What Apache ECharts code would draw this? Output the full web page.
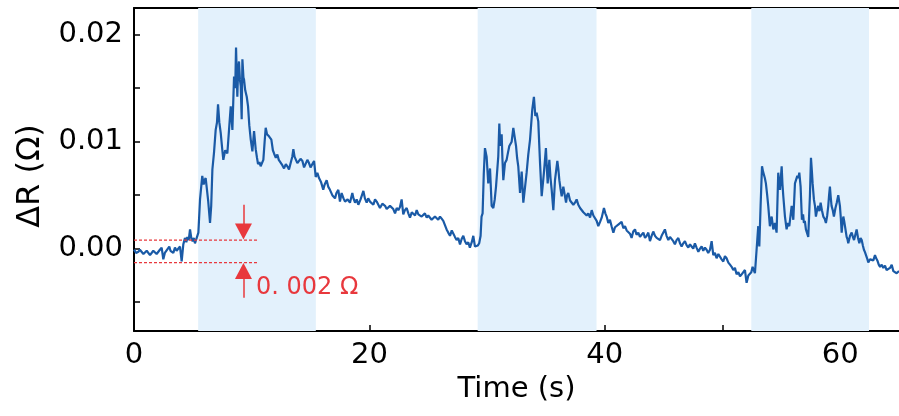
<!DOCTYPE html>
<html>
<head>
<meta charset="utf-8">
<script src="https://cdn.jsdelivr.net/npm/echarts@6/dist/echarts.min.js"></script>
<style>
  html, body { margin: 0; padding: 0; background: #fff; }
  #chart { width: 899px; height: 416px; }
</style>
</head>
<body>
<div id="chart"></div>
<script>
// ΔR 随时间变化，三段刺激区（浅蓝底）
const trace = [
  [0, -0.0001], [0.18, -0.0004], [0.37, -0.0003], [0.5, -0.0001], [0.65, -0.0001], [0.8, -0.0005],
  [0.93, -0.0006], [1.08, -0.0002], [1.22, -0.0003], [1.36, -0.0006], [1.5, -0.0007], [1.64, -0.0002],
  [1.78, -0.0001], [1.92, -0.0005], [2.07, -0.0004], [2.2, -0.0001], [2.35, 0.0001], [2.49, -0.0010],
  [2.62, -0.0004], [2.78, -0.0003], [3.0, 0.0002], [3.1, -0.0002], [3.2, -0.0001], [3.34, -0.0004],
  [3.48, 0.0001], [3.62, -0.0002], [3.77, -0.0003], [3.91, 0.0002], [4.05, -0.0012], [4.19, 0.0004],
  [4.33, 0.0010], [4.45, 0.0006], [4.53, 0.0011], [4.65, 0.0008], [4.76, 0.0018], [4.88, 0.0009],
  [4.98, 0.0007], [5.08, 0.0010], [5.18, 0.0005], [5.32, 0.0004], [5.47, 0.0015], [5.61, 0.0046],
  [5.8, 0.0068], [5.92, 0.0060], [6.0, 0.0064], [6.09, 0.0066], [6.2, 0.0055], [6.3, 0.0045],
  [6.46, 0.0024], [6.56, 0.0040], [6.66, 0.0074], [6.8, 0.0090], [6.94, 0.0111], [7.05, 0.0118],
  [7.14, 0.0135], [7.25, 0.0118], [7.37, 0.0108], [7.48, 0.0095], [7.59, 0.0083], [7.75, 0.0092],
  [7.93, 0.0089], [8.1, 0.0115], [8.22, 0.0133], [8.36, 0.0111], [8.5, 0.0161], [8.6, 0.0150],
  [8.67, 0.0188], [8.78, 0.0142], [8.85, 0.0168], [8.92, 0.0175], [9.0, 0.0158], [9.07, 0.0152],
  [9.15, 0.0121], [9.21, 0.0177], [9.3, 0.0160], [9.35, 0.0158], [9.45, 0.0148], [9.58, 0.0142],
  [9.69, 0.0133], [9.8, 0.0115], [9.92, 0.0102], [10.06, 0.0091], [10.2, 0.0110], [10.34, 0.0093],
  [10.45, 0.0085], [10.54, 0.0079], [10.66, 0.0081], [10.76, 0.0077], [10.99, 0.0083], [11.1, 0.0100],
  [11.19, 0.0113], [11.3, 0.0107], [11.47, 0.0105], [11.67, 0.0102], [11.8, 0.0092], [11.9, 0.0089],
  [12.05, 0.0085], [12.18, 0.0088], [12.3, 0.0083], [12.46, 0.0082], [12.6, 0.0078], [12.75, 0.0075],
  [12.9, 0.0079], [13.03, 0.0077], [13.17, 0.0074], [13.31, 0.0080], [13.45, 0.0086], [13.54, 0.0093],
  [13.64, 0.0086], [13.74, 0.0085], [13.88, 0.0080], [14.02, 0.0079], [14.15, 0.0084], [14.31, 0.0082],
  [14.45, 0.0076], [14.59, 0.0077], [14.73, 0.0083], [14.87, 0.0080], [15.0, 0.0076], [15.16, 0.0075],
  [15.3, 0.0082], [15.44, 0.0067], [15.58, 0.0071], [15.72, 0.0066], [15.9, 0.0062], [16.08, 0.0055],
  [16.2, 0.0060], [16.37, 0.0064], [16.5, 0.0058], [16.65, 0.0055], [16.85, 0.0050], [17.08, 0.0047],
  [17.2, 0.0052], [17.36, 0.0055], [17.5, 0.0044], [17.64, 0.0052], [17.8, 0.0047], [17.93, 0.0044],
  [18.15, 0.0046], [18.35, 0.0043], [18.55, 0.0052], [18.65, 0.0047], [18.78, 0.0043], [18.92, 0.0046],
  [19.06, 0.0041], [19.25, 0.0046], [19.49, 0.0054], [19.62, 0.0047], [19.77, 0.0043], [19.9, 0.0047],
  [20.05, 0.0044], [20.2, 0.0045], [20.34, 0.0041], [20.48, 0.0046], [20.62, 0.0044], [20.76, 0.0041],
  [20.9, 0.0038], [21.1, 0.0042], [21.33, 0.0040], [21.47, 0.0037], [21.61, 0.0036], [21.75, 0.0040],
  [21.89, 0.0041], [22.03, 0.0037], [22.18, 0.0033], [22.32, 0.0038], [22.46, 0.0036], [22.6, 0.0039],
  [22.74, 0.0046], [22.88, 0.0032], [23.02, 0.0036], [23.17, 0.0038], [23.31, 0.0033], [23.45, 0.0029],
  [23.6, 0.0034], [23.73, 0.0035], [23.88, 0.0031], [24.02, 0.0036], [24.16, 0.0032], [24.3, 0.0033],
  [24.44, 0.0030], [24.58, 0.0030], [24.72, 0.0033], [24.87, 0.0029], [25.0, 0.0031], [25.15, 0.0030],
  [25.29, 0.0027], [25.43, 0.0027], [25.57, 0.0030], [25.71, 0.0029], [25.85, 0.0027], [26.0, 0.0030],
  [26.14, 0.0028], [26.28, 0.0026], [26.42, 0.0022], [26.56, 0.0018], [26.7, 0.0015], [26.85, 0.0012],
  [27.0, 0.0017], [27.13, 0.0016], [27.27, 0.0011], [27.41, 0.0008], [27.55, 0.0010], [27.7, 0.0004],
  [27.84, 0.0009], [27.98, 0.0012], [28.12, 0.0007], [28.26, 0.0004], [28.4, 0.0006], [28.54, 0.0001],
  [28.7, 0.0006], [28.83, 0.0012], [28.97, 0.0002], [29.11, 0.0001], [29.22, 0.0003], [29.33, 0.0005],
  [29.45, 0.0012], [29.53, 0.0030], [29.62, 0.0033], [29.72, 0.0070], [29.82, 0.0094], [29.96, 0.0086],
  [30.1, 0.0061], [30.25, 0.0075], [30.39, 0.0040], [30.53, 0.0038], [30.65, 0.0046], [30.76, 0.0058],
  [30.95, 0.0086], [31.04, 0.0117], [31.1, 0.0100], [31.15, 0.0096], [31.24, 0.0107], [31.3, 0.0085],
  [31.38, 0.0064], [31.52, 0.0080], [31.66, 0.0083], [31.78, 0.0090], [31.89, 0.0096], [32.09, 0.0100],
  [32.23, 0.0113], [32.35, 0.0104], [32.46, 0.0096], [32.55, 0.0085], [32.65, 0.0077], [32.8, 0.0052],
  [32.94, 0.0072], [33.08, 0.0043], [33.2, 0.0055], [33.36, 0.0071], [33.5, 0.0088], [33.65, 0.0102],
  [33.84, 0.0130], [33.98, 0.0142], [34.1, 0.0124], [34.21, 0.0127], [34.35, 0.0119], [34.5, 0.0080],
  [34.64, 0.0049], [34.83, 0.0071], [35.0, 0.0094], [35.08, 0.0075], [35.15, 0.0061], [35.29, 0.0083],
  [35.39, 0.0066], [35.49, 0.0055], [35.63, 0.0036], [35.77, 0.0064], [35.97, 0.0082], [36.06, 0.0074],
  [36.14, 0.0064], [36.24, 0.0056], [36.34, 0.0049], [36.48, 0.0058], [36.6, 0.0050], [36.71, 0.0043],
  [36.8, 0.0050], [36.9, 0.0052], [37.05, 0.0045], [37.19, 0.0046], [37.33, 0.0041], [37.47, 0.0043],
  [37.61, 0.0046], [37.75, 0.0041], [37.9, 0.0038], [38.04, 0.0038], [38.18, 0.0034], [38.32, 0.0035],
  [38.46, 0.0031], [38.6, 0.0033], [38.75, 0.0029], [38.89, 0.0036], [39.03, 0.0031], [39.17, 0.0030],
  [39.31, 0.0026], [39.45, 0.0021], [39.6, 0.0025], [39.74, 0.0029], [39.93, 0.0038], [40.05, 0.0033],
  [40.16, 0.0030], [40.3, 0.0024], [40.44, 0.0027], [40.58, 0.0021], [40.73, 0.0015], [40.87, 0.0020],
  [41.01, 0.0019], [41.2, 0.0023], [41.43, 0.0025], [41.58, 0.0019], [41.72, 0.0021], [41.86, 0.0017],
  [42.0, 0.0018], [42.14, 0.0014], [42.28, 0.0010], [42.42, 0.0016], [42.57, 0.0018], [42.7, 0.0013],
  [42.85, 0.0015], [42.99, 0.0011], [43.13, 0.0013], [43.28, 0.0015], [43.42, 0.0010], [43.56, 0.0012],
  [43.7, 0.0015], [43.84, 0.0007], [43.98, 0.0012], [44.12, 0.0016], [44.27, 0.0012], [44.41, 0.0010],
  [44.55, 0.0011], [44.69, 0.0008], [44.83, 0.0012], [44.97, 0.0013], [45.11, 0.0018], [45.25, 0.0012],
  [45.4, 0.0008], [45.54, 0.0011], [45.68, 0.0010], [45.82, 0.0007], [45.96, 0.0004], [46.1, 0.0008],
  [46.25, 0.0010], [46.39, 0.0005], [46.53, 0.0002], [46.67, 0.0005], [46.81, 0.0007], [46.96, 0.0003],
  [47.1, 0.0001], [47.24, 0.0004], [47.38, 0.0002], [47.52, 0.0000], [47.66, 0.0005], [47.8, 0.0001],
  [47.95, -0.0003], [48.09, 0.0000], [48.23, 0.0002], [48.37, -0.0002], [48.51, 0.0001], [48.65, -0.0001],
  [48.79, -0.0004], [48.94, -0.0001], [49.08, 0.0007], [49.22, -0.0006], [49.36, -0.0004], [49.5, -0.0009],
  [49.65, -0.0005], [49.79, -0.0006], [49.93, -0.0010], [50.07, -0.0012], [50.21, -0.0007], [50.35, -0.0009],
  [50.5, -0.0013], [50.64, -0.0015], [50.78, -0.0017], [50.92, -0.0020], [51.06, -0.0018], [51.2, -0.0024],
  [51.35, -0.0022], [51.49, -0.0026], [51.63, -0.0024], [51.77, -0.0023], [51.91, -0.0020], [52.05, -0.0032],
  [52.2, -0.0025], [52.34, -0.0026], [52.45, -0.0022], [52.56, -0.0017], [52.66, -0.0020], [52.76, -0.0023],
  [52.9, -0.0001], [53.04, 0.0021], [53.13, 0.0002], [53.24, 0.0040], [53.36, 0.0077], [53.45, 0.0072],
  [53.52, 0.0071], [53.6, 0.0066], [53.69, 0.0061], [53.8, 0.0050], [53.89, 0.0040], [54.03, 0.0021],
  [54.18, 0.0030], [54.32, 0.0018], [54.46, 0.0024], [54.6, 0.0015], [54.74, 0.0071], [54.8, 0.0064],
  [54.89, 0.0055], [55.03, 0.0077], [55.1, 0.0060], [55.17, 0.0049], [55.31, 0.0030], [55.45, 0.0018],
  [55.56, 0.0024], [55.68, 0.0021], [55.88, 0.0040], [56.02, 0.0027], [56.16, 0.0061], [56.26, 0.0060],
  [56.36, 0.0068], [56.45, 0.0066], [56.53, 0.0071], [56.64, 0.0058], [56.75, 0.0027], [56.85, 0.0032],
  [56.92, 0.0024], [57.0, 0.0026], [57.09, 0.0018], [57.29, 0.0011], [57.43, 0.0049], [57.52, 0.0085],
  [57.6, 0.0072], [57.66, 0.0061], [57.77, 0.0046], [57.86, 0.0040], [57.94, 0.0030], [58.04, 0.0036],
  [58.14, 0.0040], [58.24, 0.0035], [58.34, 0.0043], [58.45, 0.0036], [58.57, 0.0030], [58.68, 0.0028],
  [58.79, 0.0024], [58.9, 0.0031], [58.99, 0.0040], [59.06, 0.0050], [59.13, 0.0058], [59.2, 0.0048],
  [59.27, 0.0040], [59.37, 0.0036], [59.47, 0.0030], [59.6, 0.0038], [59.71, 0.0043], [59.84, 0.0050],
  [59.98, 0.0040], [60.06, 0.0028], [60.13, 0.0015], [60.2, 0.0024], [60.27, 0.0030], [60.34, 0.0026],
  [60.41, 0.0021], [60.48, 0.0016], [60.55, 0.0011], [60.62, 0.0009], [60.69, 0.0005], [60.84, 0.0012],
  [60.98, 0.0015], [61.08, 0.0011], [61.18, 0.0008], [61.29, 0.0013], [61.4, 0.0018], [61.52, 0.0010],
  [61.63, 0.0005], [61.73, 0.0010], [61.83, 0.0008], [61.93, 0.0003], [62.02, -0.0001], [62.1, -0.0003],
  [62.19, -0.0004], [62.29, -0.0009], [62.39, -0.0013], [62.54, -0.0010], [62.68, -0.0009], [62.82, -0.0011],
  [62.96, -0.0006], [63.06, -0.0009], [63.16, -0.0011], [63.28, -0.0015], [63.39, -0.0017], [63.53, -0.0015],
  [63.67, -0.0018], [63.81, -0.0016], [63.95, -0.0020], [64.1, -0.0021], [64.24, -0.0018], [64.38, -0.0015],
  [64.52, -0.0021], [64.66, -0.0020], [64.8, -0.0023], [65.0, -0.0021]
];

// 浅蓝色刺激区间 [start, end] (s)
const stimWindows = [[5.45, 15.45], [29.2, 39.3], [52.45, 62.45]];

// 坐标轴刻度
const xLabelValues = [0, 20, 40, 60];
const xTickValues = [0, 10, 20, 30, 40, 50, 60];
const yLabelValues = [0, 0.01, 0.02];
const yTickValues = [-0.005, 0, 0.005, 0.01, 0.015, 0.02];

// 噪声带标注：上下两条虚线 + 箭头
const bandUpper = 0.0008;
const bandLower = -0.0013;
const bandEndX = 10.6;
const arrowX = 9.3;
const arrowTopFrom = 0.0041;
const arrowTopTo = 0.0016;
const arrowBottomFrom = -0.0046;
const arrowBottomTo = -0.0021;

const RED = '#e8383d';
const BLUE = '#1a5aa6';
const FONT = 'DejaVu Sans';

const chart = echarts.init(document.getElementById('chart'), null, { renderer: 'canvas' });

const option = {
    animation: false,
    backgroundColor: '#fff',
    grid: { left: 134, right: 0, top: 8, bottom: 85, containLabel: false },
    xAxis: [
        {
            type: 'value',
            min: 0,
            max: 65,
            name: 'Time (s)',
            nameLocation: 'middle',
            nameGap: 40,
            nameTextStyle: { color: '#000', fontSize: 29, fontFamily: FONT },
            axisLine: { show: true, onZero: false, lineStyle: { color: '#000', width: 2 } },
            axisTick: { show: true, inside: true, length: 6, customValues: xTickValues, lineStyle: { color: '#000', width: 1.5 } },
            axisLabel: { customValues: xLabelValues, color: '#000', fontSize: 29, fontFamily: FONT, margin: 10 },
            splitLine: { show: false }
        },
        {
            type: 'value',
            position: 'top',
            min: 0,
            max: 65,
            axisLine: { show: true, onZero: false, lineStyle: { color: '#000', width: 2 } },
            axisTick: { show: false },
            axisLabel: { show: false },
            splitLine: { show: false }
        }
    ],
    yAxis: {
        type: 'value',
        min: -0.0077,
        max: 0.0225,
        axisLine: { show: true, onZero: false, lineStyle: { color: '#000', width: 2 } },
        axisTick: { show: true, inside: true, length: 6, customValues: yTickValues, lineStyle: { color: '#000', width: 1.5 } },
        axisLabel: {
            customValues: yLabelValues,
            color: '#000',
            fontSize: 29,
            fontFamily: FONT,
            margin: 11,
            formatter: v => v.toFixed(2)
        },
        splitLine: { show: false }
    },
    series: [
        {
            type: 'line',
            data: trace,
            showSymbol: false,
            symbol: 'none',
            z: 3,
            lineStyle: { color: BLUE, width: 2.2 },
            markArea: {
                silent: true,
                itemStyle: { color: '#e3f1fc' },
                data: stimWindows.map(w => [{ xAxis: w[0] }, { xAxis: w[1] }])
            }
        },
        {
            type: 'line',
            data: [[0, bandUpper], [bandEndX, bandUpper]],
            symbol: 'none',
            z: 4,
            lineStyle: { color: RED, width: 1.3, type: [3, 2] }
        },
        {
            type: 'line',
            data: [[0, bandLower], [bandEndX, bandLower]],
            symbol: 'none',
            z: 4,
            lineStyle: { color: RED, width: 1.3, type: [3, 2] },
            markLine: {
                silent: true,
                symbol: ['none', 'triangle'],
                symbolSize: [17, 16],
                label: { show: false },
                lineStyle: { color: RED, width: 1.5, type: 'solid' },
                data: [
                    [{ coord: [arrowX, arrowTopFrom] }, { coord: [arrowX, arrowTopTo] }],
                    [{ coord: [arrowX, arrowBottomFrom] }, { coord: [arrowX, arrowBottomTo] }]
                ]
            }
        }
    ],
    graphic: [
        {
            type: 'text',
            z: 100,
            left: 256,
            top: 276,
            style: { text: '0. 002 Ω', fill: RED, font: '24px "DejaVu Sans"' }
        },
        {
            type: 'text',
            z: 100,
            x: 31,
            y: 176,
            rotation: Math.PI / 2,
            style: {
                text: 'ΔR (Ω)',
                fill: '#000',
                font: '32px "DejaVu Sans"',
                align: 'center',
                verticalAlign: 'middle'
            }
        }
    ]
};

chart.setOption(option);
</script>
</body>
</html>
